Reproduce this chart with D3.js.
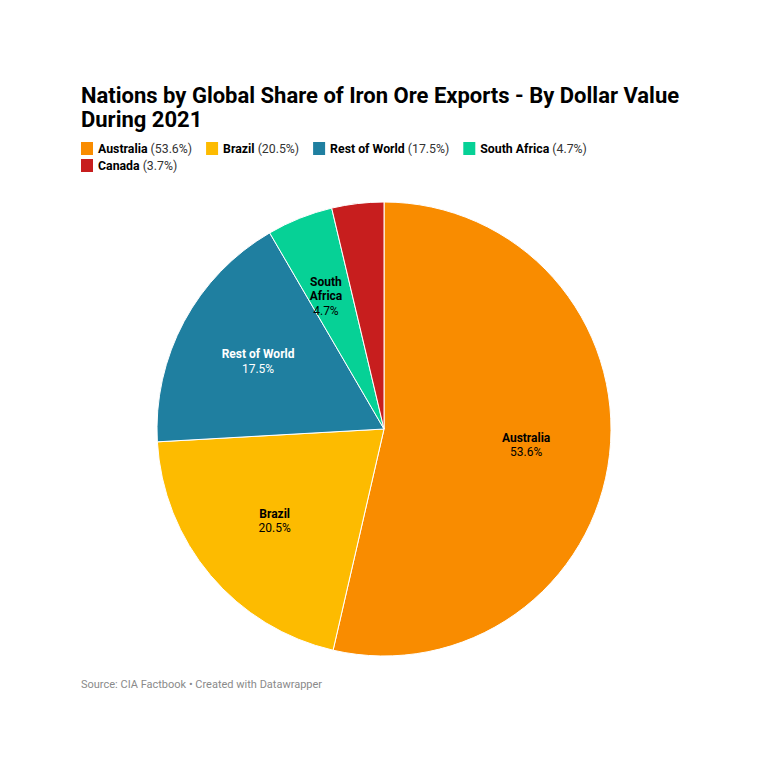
<!DOCTYPE html>
<html><head><meta charset="utf-8">
<script src="https://cdn.jsdelivr.net/npm/d3@7"></script>
<style>
body{margin:0;background:#fff;font-family:Roboto,"Noto Sans",sans-serif;}
</style></head>
<body><svg id="c" width="768" height="771"></svg>
<script>
const categories=["Australia","Brazil","Rest of World","South Africa","Canada"];
const values=[53.6,20.5,17.5,4.7,3.7];
const colors=["#f98c00","#fdbb00","#1f7fa0","#06d196","#c71e1e"];
const labelColors=["#000","#000","#fff","#000","#fff"];
const title=["Nations by Global Share of Iron Ore Exports - By Dollar Value","During 2021"];
const source="Source: CIA Factbook • Created with Datawrapper";

const svg=d3.select("#c");
svg.append("rect").attr("width",768).attr("height",771).attr("fill","#fff");
const t=svg.append("text").attr("x",81).attr("font-size",22).attr("font-weight",700).attr("fill","#000");
title.forEach((s,i)=>t.append("tspan").attr("x",81).attr("y",103+i*24).text(s));

// legend
const rows=[[0,1,2,3],[4]];
const leg=svg.append("g");
rows.forEach((row,ri)=>{
  let x=81;
  const y=153+ri*17;
  row.forEach(i=>{
    leg.append("rect").attr("x",x).attr("y",y-11).attr("width",12).attr("height",13).attr("fill",colors[i]);
    const tx=leg.append("text").attr("x",x+17).attr("y",y).attr("font-size",12.3).attr("fill","#333");
    tx.append("tspan").attr("font-weight",700).attr("fill","#000").text(categories[i]);
    tx.append("tspan").text(" ("+values[i].toFixed(1)+"%)");
    x+=tx.node().getComputedTextLength()+17+14;
  });
});

const cx=384,cy=429,R=227;
const pie=d3.pie().sort(null).value(d=>d)(values);
const arc=d3.arc().innerRadius(0).outerRadius(R);
const g=svg.append("g").attr("transform",`translate(${cx},${cy})`);
g.selectAll("path").data(pie).join("path").attr("d",arc)
 .attr("fill",(d,i)=>colors[i]).attr("stroke","#fff").attr("stroke-width",1);

const lab=d3.arc().innerRadius(R*0.63).outerRadius(R*0.63);
const labelLines=[["Australia"],["Brazil"],["Rest of World"],["South","Africa"],null];
pie.forEach((d,i)=>{
  if(!labelLines[i])return;
  let [x,y]=lab.centroid(d);
  if(i===3) x-=5;
  const lines=labelLines[i].concat([values[i].toFixed(1)+"%"]);
  const n=lines.length;
  const tx=g.append("text").attr("text-anchor","middle").attr("font-size",12).attr("fill",labelColors[i]);
  lines.forEach((s,k)=>{
    tx.append("tspan").attr("x",x).attr("y",y+(k-(n-1)/2)*14.5+4)
      .attr("font-weight",k<n-1?700:400).text(s);
  });
});

svg.append("text").attr("x",81).attr("y",688).attr("font-size",11).attr("fill","#8a8a8a").text(source);
</script></body></html>
